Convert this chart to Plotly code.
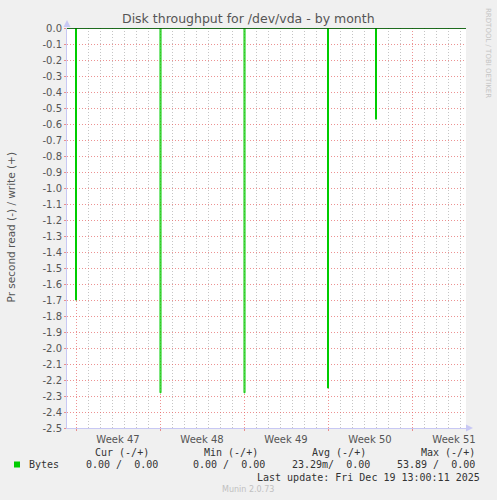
import plotly.graph_objects as go

# DATA (read is drawn negative, write positive)
read_time = [
    "2025-11-16 06:00", "2025-11-16 23:00", "2025-11-17 01:00",
    "2025-11-24 00:00", "2025-11-24 02:00",
    "2025-12-01 00:00", "2025-12-01 02:00",
    "2025-12-07 23:00", "2025-12-08 01:00",
    "2025-12-11 23:00", "2025-12-12 01:00",
    "2025-12-19 12:00",
]
read_value = [0, -1.70, 0, -2.28, 0, -2.28, 0, -2.25, 0, -0.57, 0, 0]
write_time = ["2025-11-16 06:00", "2025-12-19 12:00"]
write_value = [0, 0]

y_labels = ["0.0", "-0.1", "-0.2", "-0.3", "-0.4", "-0.5", "-0.6", "-0.7", "-0.8",
            "-0.9", "-1.0", "-1.1", "-1.2", "-1.3", "-1.4", "-1.5", "-1.6", "-1.7",
            "-1.8", "-1.9", "-2.0", "-2.1", "-2.2", "-2.3", "-2.4", "-2.5"]
y_ticks = [float(s) for s in y_labels]

legend_name = "Bytes"
stat_heads = ["Cur (-/+)", "Min (-/+)", "Avg (-/+)", "Max (-/+)"]
stat_values = ["0.00 /  0.00", "0.00 /  0.00", "23.29m/  0.00", "53.89 /  0.00"]
last_update = "Last update: Fri Dec 19 13:00:11 2025"

# CANVAS GEOMETRY (pixels)
W, H = 497, 500
L, R, T, B = 67, 466, 28, 428


def px(x):
    return (x - L) / (R - L)


def py(y):
    return (B - y) / (B - T)


GREEN = "#00CC00"
AXIS = "#c8c8f4"
TXT = "#555555"
MGRID = "rgba(230,100,100,0.7)"
GRID = "rgba(150,150,150,0.55)"

fig = go.Figure()
fig.add_trace(go.Scatter(x=read_time, y=read_value, mode="lines", line_shape="hv",
                         line=dict(color=GREEN, width=1), hoverinfo="skip"))
fig.add_trace(go.Scatter(x=write_time, y=write_value, mode="lines",
                         line=dict(color=GREEN, width=1), hoverinfo="skip"))

fig.update_layout(
    width=W, height=H,
    margin=dict(l=L, r=W - R, t=T, b=H - B, autoexpand=False),
    paper_bgcolor="#F0F0F0", plot_bgcolor="#FFFFFF",
    showlegend=False,
    font=dict(family="DejaVu Sans", size=10, color=TXT),
)

fig.update_xaxes(
    type="date", range=["2025-11-16 06:00", "2025-12-19 12:00"],
    tick0="2025-11-17", dtick=7 * 86400000, ticklabelmode="period",
    tickformat="Week %V",
    showgrid=True, gridcolor=MGRID, griddash="1px,2px", gridwidth=1,
    minor=dict(dtick=86400000, tick0="2025-11-17", showgrid=True,
               gridcolor=GRID, griddash="1px,2px", gridwidth=1),
    showline=True, linecolor=AXIS, linewidth=1,
    ticks="outside", ticklen=2, tickcolor=MGRID,
    tickfont=dict(size=10, color=TXT), zeroline=False,
)
fig.update_yaxes(
    range=[-2.5, 0], tickvals=y_ticks, ticktext=y_labels,
    showgrid=True, gridcolor=MGRID, griddash="1px,2px", gridwidth=1,
    showline=True, linecolor=AXIS, linewidth=1,
    ticks="outside", ticklen=2, tickcolor=MGRID,
    tickfont=dict(size=10, color=TXT), zeroline=False,
)

shapes = [
    # zero line
    dict(type="line", xref="paper", yref="y", x0=0, x1=1, y0=0, y1=0,
         line=dict(color="#000000", width=1.2), layer="above"),
    # axis arrows
    dict(type="path", xref="paper", yref="paper",
         path=f"M {px(63.5)} {py(27)} L {px(70.5)} {py(27)} L {px(67)} {py(20)} Z",
         fillcolor=AXIS, line=dict(width=0)),
    dict(type="path", xref="paper", yref="paper",
         path=f"M {px(466)} {py(424.5)} L {px(466)} {py(431.5)} L {px(473)} {py(428)} Z",
         fillcolor=AXIS, line=dict(width=0)),
    # legend swatch
    dict(type="rect", xref="paper", yref="paper",
         x0=px(14), x1=px(20), y0=py(467.5), y1=py(461.5),
         fillcolor=GREEN, line=dict(width=0)),
]
fig.update_layout(shapes=shapes)

mono = dict(family="DejaVu Sans Mono", size=10, color="#333333")
ann = [
    dict(text="Disk throughput for /dev/vda - by month", x=px(248), y=py(18),
         font=dict(family="DejaVu Sans", size=12.5, color=TXT)),
    dict(text="Pr second read (-) / write (+)", x=px(10), y=py(227.5), textangle=-90,
         font=dict(family="DejaVu Sans", size=10.5, color=TXT)),
    dict(text="RRDTOOL / TOBI OETIKER", x=px(488), y=py(53), textangle=90,
         font=dict(family="DejaVu Sans", size=7, color="#c4c4c4")),
    dict(text=legend_name, x=px(27), y=py(464.5), xanchor="left", font=mono),
    dict(text=last_update, x=px(482), y=py(477), xanchor="right", font=mono),
    dict(text="Munin 2.0.73", x=px(248), y=py(489.5),
         font=dict(family="DejaVu Sans", size=8, color="#c0c0c0")),
]
head_right = [151, 260, 368, 477]
val_right = [160, 267, 372, 477]
for h, v, hx, vx in zip(stat_heads, stat_values, head_right, val_right):
    ann.append(dict(text=h, x=px(hx), y=py(452.5), xanchor="right", font=mono))
    ann.append(dict(text=v.replace(" ", "&nbsp;"), x=px(vx), y=py(464.5), xanchor="right", font=mono))

for a in ann:
    a.setdefault("xanchor", "center")
    a.setdefault("yanchor", "middle")
    a.update(xref="paper", yref="paper", showarrow=False)
fig.update_layout(annotations=ann)

# drop the page's default body margin so the figure fills the window
fig.write_html("out.html", config={"displayModeBar": False},
               post_script="document.body.style.margin='0';")
